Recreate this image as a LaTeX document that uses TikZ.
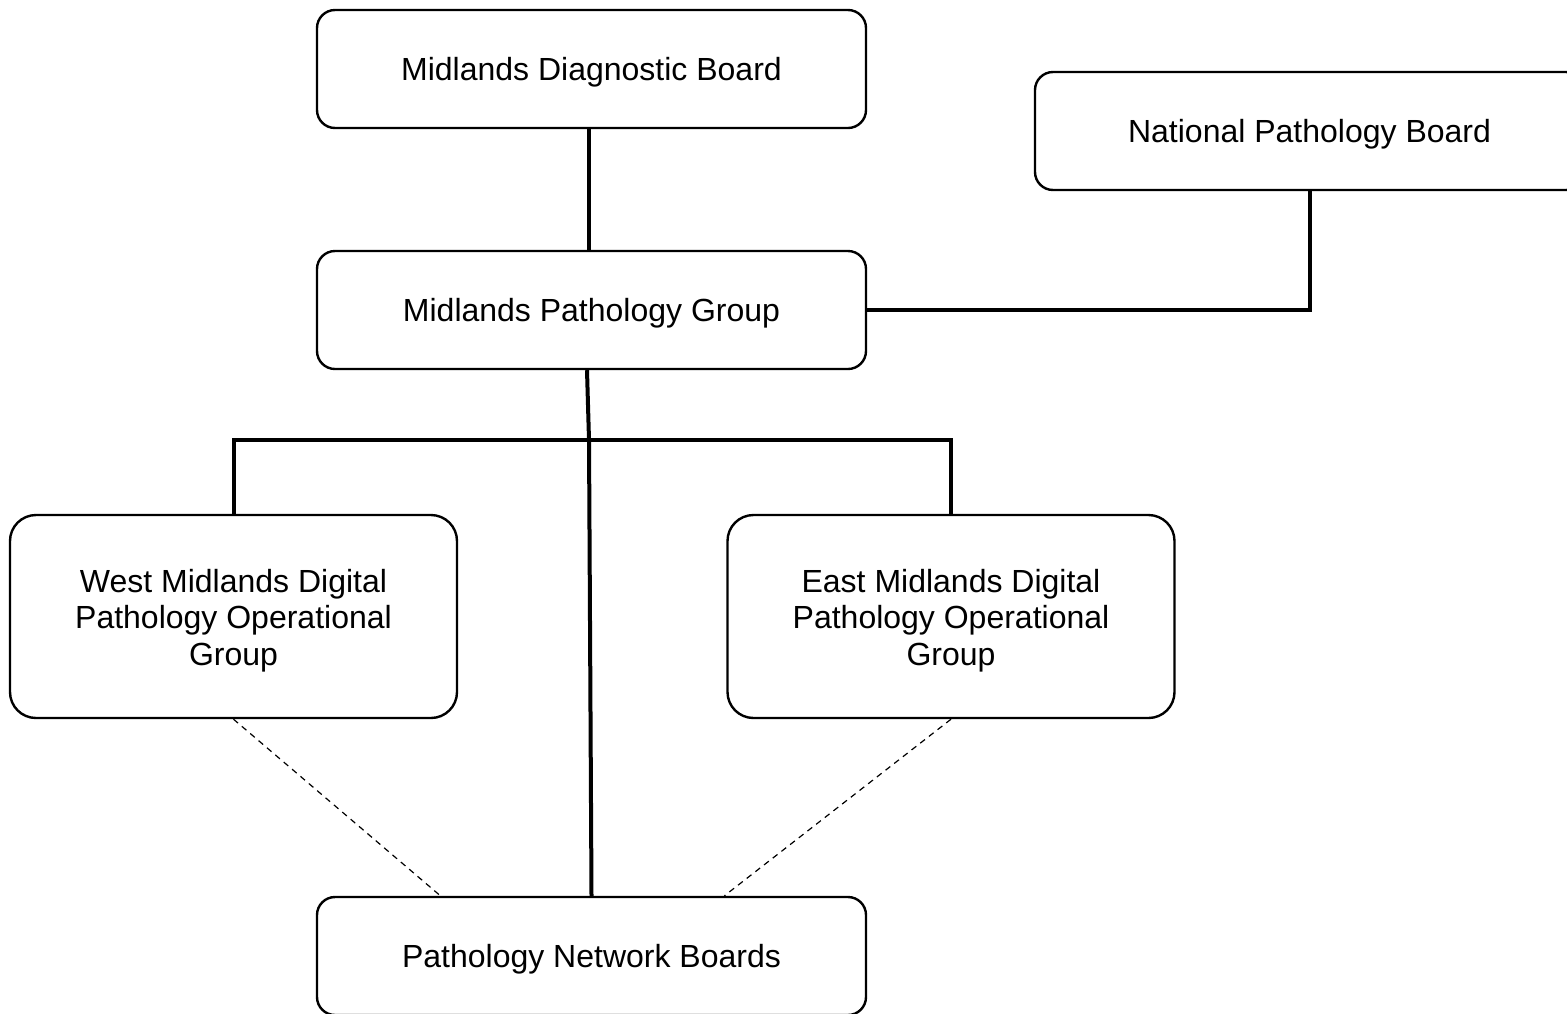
\documentclass[tikz,border=0pt]{standalone}
\usepackage{fontspec}
\setmainfont{Liberation Sans}
\usetikzlibrary{calc}

\begin{document}
\begin{tikzpicture}[x=0.5pt,y=-0.5pt]
    \tikzstyle{board}=[rectangle,draw=black,line width=1.2pt,rounded corners=9pt,minimum width=274.5pt,minimum height=59pt,inner sep=0pt,text depth=0pt,font=\fontsize{16}{18.25}\selectfont]
    \tikzstyle{opgroup}=[board,text depth=,rounded corners=13pt,minimum width=223.5pt,minimum height=101.5pt]
    \tikzstyle{link}=[line width=2pt]
    \tikzstyle{loose}=[line width=0.6pt,dash pattern=on 3pt off 2.5pt]

    \useasboundingbox (0,0) rectangle (1567,1013);
    \clip (0,0) rectangle (1567,1013);

    \node[board] (mdb) at (591.5,69) {Midlands Diagnostic Board};
    \node[board] (npb) at (1309.5,131) {National Pathology Board};
    \node[board] (mpg) at (591.5,310) {Midlands Pathology Group};
    \node[opgroup] (west) at (233.5,616.5) {\raisebox{0pt}[\height][\dimexpr\depth-5pt\relax]{\begin{tabular}{@{}c@{}}West Midlands Digital\\Pathology Operational\\Group\end{tabular}}};
    \node[opgroup] (east) at (951,616.5) {\raisebox{0pt}[\height][\dimexpr\depth-5pt\relax]{\begin{tabular}{@{}c@{}}East Midlands Digital\\Pathology Operational\\Group\end{tabular}}};
    \node[board] (pnb) at (591.5,956) {Pathology Network Boards};

    \coordinate (hub) at (589,440);

    \draw[link] ([xshift=-1.25pt]mdb.south) -- ([xshift=-1.25pt]mpg.north);
    \draw[link] (npb.south) |- (mpg.east);
    \draw[link] ([xshift=-2.25pt]mpg.south) -- (hub) -- (pnb.north);
    \draw[link] (west.north) |- (hub) -| (east.north);

    % side groups only loosely tied to the network boards
    \foreach \grp/\pos in {west/0.226, east/0.741}
        \draw[loose] (\grp.south) -- ($(pnb.north west)!\pos!(pnb.north east)$);
\end{tikzpicture}
\end{document}
